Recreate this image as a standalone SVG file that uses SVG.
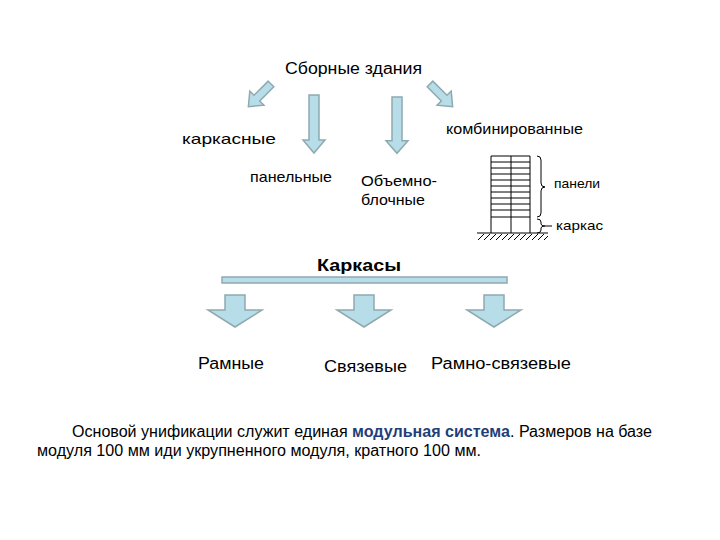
<svg xmlns="http://www.w3.org/2000/svg" width="720" height="540" viewBox="0 0 720 540">
<style>
text{font-family:"Liberation Sans",Arial,sans-serif;fill:#000}
.ar{fill:#b7dde8;stroke:#8fa9b0;stroke-width:1.5}
.ln{stroke:#000;stroke-width:1;fill:none}
</style>
<defs>
<path id="va" d="M-5,0 H5 V45 H11 L0,58 L-11,45 H-5 Z"/>
<path id="da" d="M-4,0 H4 V20 H10 L0,32 L-10,20 H-4 Z"/>
<path id="la" d="M-10,0 H10 V15 H27 L0,32 L-27,15 H-10 Z"/>
</defs>
<rect width="720" height="540" fill="#fff"/>
<g id="connectors">
<use href="#da" class="ar" transform="translate(271,84) rotate(45)"/>
<use href="#va" class="ar" transform="translate(314,95)"/>
<use href="#va" class="ar" transform="translate(397,97) scale(1,0.97)"/>
<use href="#da" class="ar" transform="translate(430,84) rotate(-45)"/>
<rect x="222" y="277" width="285" height="6" class="ar"/>
<use href="#la" class="ar" transform="translate(235,295)"/>
<use href="#la" class="ar" transform="translate(364,295)"/>
<use href="#la" class="ar" transform="translate(494,295)"/>
</g>
<g id="n-title"><text x="285" y="74" font-size="16" textLength="137" lengthAdjust="spacingAndGlyphs">Сборные здания</text></g>
<g id="n-karkasnye"><text x="182" y="144" font-size="15" textLength="94" lengthAdjust="spacingAndGlyphs">каркасные</text></g>
<g id="n-panel"><text x="250" y="182" font-size="15" textLength="82" lengthAdjust="spacingAndGlyphs">панельные</text></g>
<g id="n-obj"><text x="361" y="186" font-size="15" textLength="76" lengthAdjust="spacingAndGlyphs">Объемно-</text><text x="361" y="205" font-size="15" textLength="64" lengthAdjust="spacingAndGlyphs">блочные</text></g>
<g id="n-komb"><text x="446" y="134" font-size="15" textLength="137" lengthAdjust="spacingAndGlyphs">комбинированные</text></g>
<g id="n-building">
<path class="ln" d="M491,156V233M511,156V233M530,156V233"/>
<path class="ln" d="M491,156H530M491,162H530M491,168H530M491,174H530M491,180H530M491,186H530M491,192H530M491,198H530M491,204H530M491,210H530M491,217H530"/>
<path class="ln" d="M477,233H548"/>
<path class="ln" stroke-width="0.8" d="M478,240l6,-6M484,240l6,-6M490,240l6,-6M496,240l6,-6M502,240l6,-6M508,240l6,-6M514,240l6,-6M520,240l6,-6M526,240l6,-6M532,240l6,-6M538,240l6,-6M544,240l4,-4"/>
<path class="ln" d="M537,156q4,0 4,4v23q0,4 4,4q-4,0 -4,4v22q0,4 -4,4"/>
<path class="ln" d="M537,219q4,0 4,3v2q0,2 4,2q-4,0 -4,2v2q0,3 -4,3"/>
<path class="ln" d="M545,226H552"/>
<text x="554" y="188" font-size="13" textLength="46" lengthAdjust="spacingAndGlyphs">панели</text>
<text x="556" y="230" font-size="13" textLength="47" lengthAdjust="spacingAndGlyphs">каркас</text>
</g>
<g id="n-karkasy"><text x="317" y="271" font-size="17" font-weight="bold" textLength="84" lengthAdjust="spacingAndGlyphs">Каркасы</text></g>
<g id="n-ramnye"><text x="198" y="369" font-size="16" textLength="66" lengthAdjust="spacingAndGlyphs">Рамные</text></g>
<g id="n-sv"><text x="324" y="372" font-size="16" textLength="83" lengthAdjust="spacingAndGlyphs">Связевые</text></g>
<g id="n-rsv"><text x="431" y="369" font-size="16" textLength="140" lengthAdjust="spacingAndGlyphs">Рамно-связевые</text></g>
<g id="n-note">
<text x="72" y="437" font-size="16" textLength="580" lengthAdjust="spacingAndGlyphs">Основой унификации служит единая <tspan font-weight="bold" style="fill:#1f3f7a">модульная система</tspan>. Размеров на базе</text>
<text x="37" y="456" font-size="16" textLength="444" lengthAdjust="spacingAndGlyphs">модуля 100 мм иди укрупненного модуля, кратного 100 мм.</text>
</g>
</svg>
